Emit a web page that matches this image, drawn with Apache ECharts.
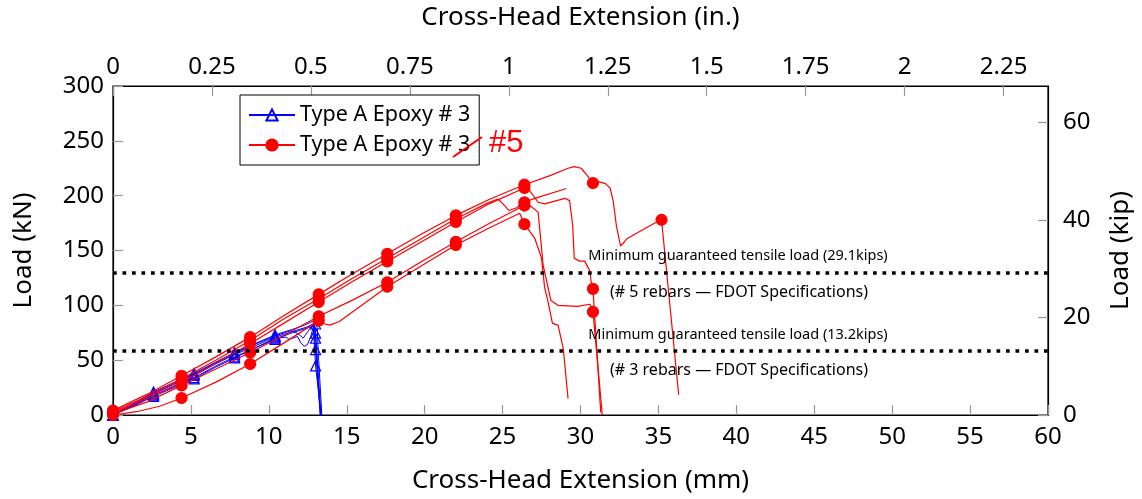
<!DOCTYPE html>
<html>
<head>
<meta charset="utf-8">
<script src="https://cdn.jsdelivr.net/npm/echarts@6/dist/echarts.min.js"></script>
<style>html,body{margin:0;padding:0;background:#fff}#c{width:1142px;height:499px}</style>
</head>
<body>
<div id="c"></div>
<script>
// ---- data (mm, kN) ----
const redMarkX = [0, 4.4, 8.8, 13.2, 17.6, 22, 26.4, 30.8, 35.2];
const blueMarkX = [0, 2.6, 5.2, 7.8, 10.4, 13.0];

const redA = [[0,4],[2.2,19],[4.4,35.8],[6.6,53],[8.8,71],[11,91],[13.2,110],[15.4,129],[17.6,147],[19.8,165],[22,182],[24.2,197],[26.4,210],[28,218],[29.2,225],[29.6,226.5],[30.05,225],[30.4,219],[30.8,211.5],[31.1,213],[31.6,211],[31.9,207],[32.1,195],[32.3,173],[32.57,154],[32.82,158],[33.0,161],[34.0,169],[34.95,176.5],[35.2,178],[36.3,18.5]];
const redB = [[0,3],[2.2,17],[4.4,33],[6.6,50],[8.8,68],[11,88],[13.2,106],[15.4,125],[17.6,143],[19.8,161],[22,179],[24.0,193],[24.7,197],[25.0,193],[25.4,186.5],[25.9,189],[26.4,194],[27.07,197.5],[29.1,206.5]];
const redC = [[0,2],[2.2,15],[4.4,30],[6.6,47],[8.8,65],[11,84],[13.2,103],[15.4,122],[17.6,140],[19.8,158],[22,176],[24.2,193],[26.4,207],[26.75,204.4],[27.28,194],[27.7,192.5],[29.0,197.6],[29.3,195.5],[29.5,173],[29.6,143],[29.95,140.3],[30.27,140.3],[30.6,131.4],[30.7,119.4],[30.8,115],[31.3,2]];
const redD = [[0,1],[2.2,12],[4.4,27],[6.6,42],[8.8,57],[11,73],[13.2,90],[15.4,105],[17.6,121],[19.8,140],[22,158],[24.2,175],[26.4,191],[26.75,191],[27.28,185],[27.6,137],[28.1,104.5],[28.56,100],[29.8,99],[30.6,101],[30.8,94],[31.4,0]];
const redE = [[0,0],[1.5,3],[3,8],[4.4,15.5],[6.6,30],[8.8,46.5],[11,66],[13.2,86],[13.6,83],[13.9,82],[14.5,85],[17.6,117],[19.8,136],[22,155],[24.2,171],[26.1,184],[26.4,174],[27.07,161],[27.5,143],[27.7,116],[27.9,104.5],[28.2,83.5],[28.56,82],[28.9,60],[29.2,15]];

const blue1 = [[0,0],[1.3,10],[2.6,20],[3.9,29],[5.2,38],[6.5,47.5],[7.8,57],[9.1,65],[10.4,73],[11.5,78],[12.3,82],[12.9,86],[13.0,74.6],[13.35,0]];
const blue2 = [[0,0],[1.3,9],[2.6,19],[3.9,28],[5.2,36],[6.5,46],[7.8,55],[9.1,63],[10.4,71],[11.5,76],[12.4,80],[12.85,83],[13.0,59.7],[13.3,0]];
const blue3 = [[0,0],[1.3,8.5],[2.6,18],[3.9,26],[5.2,34],[6.5,44],[7.8,53],[9.1,61],[10.4,69],[11.5,75],[12.4,79],[12.85,81],[13.0,44.8],[13.35,0]];
const blue4 = [[0,0],[1.3,8],[2.6,17],[3.9,25],[5.2,33],[6.5,43],[7.8,52],[9.1,61],[10.4,70],[11.1,71],[11.3,69],[11.84,71.6],[12.06,65.6],[12.27,62.7],[12.48,64.2],[12.7,72],[12.85,80],[13.0,83],[13.1,80],[13.2,50],[13.4,0]];
const blue5 = [[0,0],[1.3,10.5],[2.6,21],[3.9,29.5],[5.2,37],[6.5,47],[7.8,56],[9.1,64.5],[10.4,72],[11.4,77],[11.9,74],[12.2,70],[12.5,76],[12.9,84],[13.0,70],[13.3,0]];

const minLoads = [129.4, 58.7];           // kN (29.1 kips, 13.2 kips)
const xTicksMM = [0, 60, 5];             // min, max, step
const yTicksKN = [0, 300, 50];
const MM_PER_IN = 25.4, KN_PER_KIP = 4.44822;
const annotTexts = [
  'Minimum guaranteed tensile load (29.1kips)',
  '(# 5 rebars — FDOT Specifications)',
  'Minimum guaranteed tensile load (13.2kips)',
  '(# 3 rebars — FDOT Specifications)'
];
const legendLabel = 'Type A Epoxy # 3';

// ---- chart ----
const FONT = 'Noto Sans';
const chart = echarts.init(document.getElementById('c'), null, {renderer: 'canvas'});

function lineSeries(data, color, name, marks, symbol, size, fillColor, width) {
  return {
    type: 'line', name: name, data: data, xAxisIndex: 0, yAxisIndex: 0,
    symbol: symbol, showAllSymbol: true,
    symbolSize: (v) => marks.includes(v[0]) ? size : 0,
    lineStyle: {color: color, width: width},
    itemStyle: {color: fillColor, borderColor: color, borderWidth: 1.2},
    emphasis: {disabled: true}, silent: true, z: name === 'red' ? 4 : 3
  };
}

const axisLineStyle = {show: true, onZero: false, lineStyle: {color: '#000', width: 1.2}};
const tickStyle = {show: true, inside: true, length: 10, lineStyle: {color: '#999', width: 1.2}};
const labelStyle = {color: '#000', fontSize: 24, fontFamily: FONT};
const nameStyle = {color: '#000', fontSize: 26, fontFamily: FONT};

const series = [];
[blue1, blue2, blue3, blue4, blue5].forEach(d => series.push(lineSeries(d, '#0000ff', 'blue', blueMarkX, 'triangle', 10, 'rgba(255,255,255,0)', 1)));
[redA, redB, redC, redD, redE].forEach(d => series.push(lineSeries(d, '#ff0000', 'red', redMarkX, 'circle', 11, '#ff0000', 1.2)));
series.push({
  type: 'line', data: [], silent: true,
  markLine: {
    symbol: 'none', silent: true, label: {show: false}, animation: false,
    lineStyle: {color: '#000', type: [3.7, 5.8], width: 3.7, cap: 'butt'},
    data: minLoads.map(v => ({yAxis: v}))
  }
});

const option = {
  animation: false,
  backgroundColor: '#fff',
  grid: {left: 113, right: 90, top: 85, bottom: 79, containLabel: false,
         show: true, borderColor: '#000', borderWidth: 1.2, backgroundColor: 'rgba(0,0,0,0)'},
  legend: {
    data: ['blue', 'red'], orient: 'vertical', left: 240, top: 95,
    formatter: () => legendLabel, selectedMode: false,
    itemWidth: 46, itemHeight: 14, itemGap: 8,
    padding: [9, 9, 9, 8], borderColor: '#000', borderWidth: 1, backgroundColor: '#fff',
    textStyle: {color: '#000', fontSize: 21.5, fontFamily: FONT}
  },
  xAxis: [
    {type: 'value', position: 'bottom', min: xTicksMM[0], max: xTicksMM[1], interval: xTicksMM[2],
     name: 'Cross-Head Extension (mm)', nameLocation: 'middle', nameGap: 53, nameTextStyle: nameStyle,
     axisLine: axisLineStyle, axisTick: tickStyle, splitLine: {show: false},
     axisLabel: Object.assign({margin: 10}, labelStyle)},
    {type: 'value', position: 'top', min: 0, max: xTicksMM[1] / MM_PER_IN, interval: 0.25,
     name: 'Cross-Head Extension (in.)', nameLocation: 'middle', nameGap: 55, nameTextStyle: nameStyle,
     axisLine: axisLineStyle, axisTick: tickStyle, splitLine: {show: false},
     axisLabel: Object.assign({margin: 7, showMaxLabel: false, formatter: v => String(+v.toFixed(2))}, labelStyle)}
  ],
  yAxis: [
    {type: 'value', position: 'left', min: yTicksKN[0], max: yTicksKN[1], interval: yTicksKN[2],
     name: 'Load (kN)', nameLocation: 'middle', nameGap: 76, nameTextStyle: nameStyle,
     axisLine: axisLineStyle, axisTick: tickStyle, splitLine: {show: false},
     axisLabel: Object.assign({margin: 9}, labelStyle)},
    {type: 'value', position: 'right', min: 0, max: yTicksKN[1] / KN_PER_KIP, interval: 20,
     name: 'Load (kip)', nameLocation: 'middle', nameGap: 60, nameTextStyle: nameStyle,
     axisLine: axisLineStyle, axisTick: tickStyle, splitLine: {show: false},
     axisLabel: Object.assign({margin: 15, showMaxLabel: false}, labelStyle)}
  ],
  series: series,
  graphic: [
    {type: 'line', shape: {x1: 453, y1: 157, x2: 482, y2: 137}, style: {stroke: '#ff0000', lineWidth: 2}, z: 100},
    {type: 'text', x: 489, y: 143, z: 100, style: {text: '#5', fill: '#ff0000', font: '31px "Liberation Sans", Arial, sans-serif', textVerticalAlign: 'middle'}},
    {type: 'text', x: 738, y: 256, z: 100, style: {text: annotTexts[0], fill: '#000', font: '14.5px "Noto Sans"', textAlign: 'center', textVerticalAlign: 'middle'}},
    {type: 'text', x: 739, y: 292, z: 100, style: {text: annotTexts[1], fill: '#000', font: '16px "Noto Sans"', textAlign: 'center', textVerticalAlign: 'middle'}},
    {type: 'text', x: 738, y: 335, z: 100, style: {text: annotTexts[2], fill: '#000', font: '14.5px "Noto Sans"', textAlign: 'center', textVerticalAlign: 'middle'}},
    {type: 'text', x: 739, y: 370, z: 100, style: {text: annotTexts[3], fill: '#000', font: '16px "Noto Sans"', textAlign: 'center', textVerticalAlign: 'middle'}}
  ]
};
chart.setOption(option);
</script>
</body>
</html>
